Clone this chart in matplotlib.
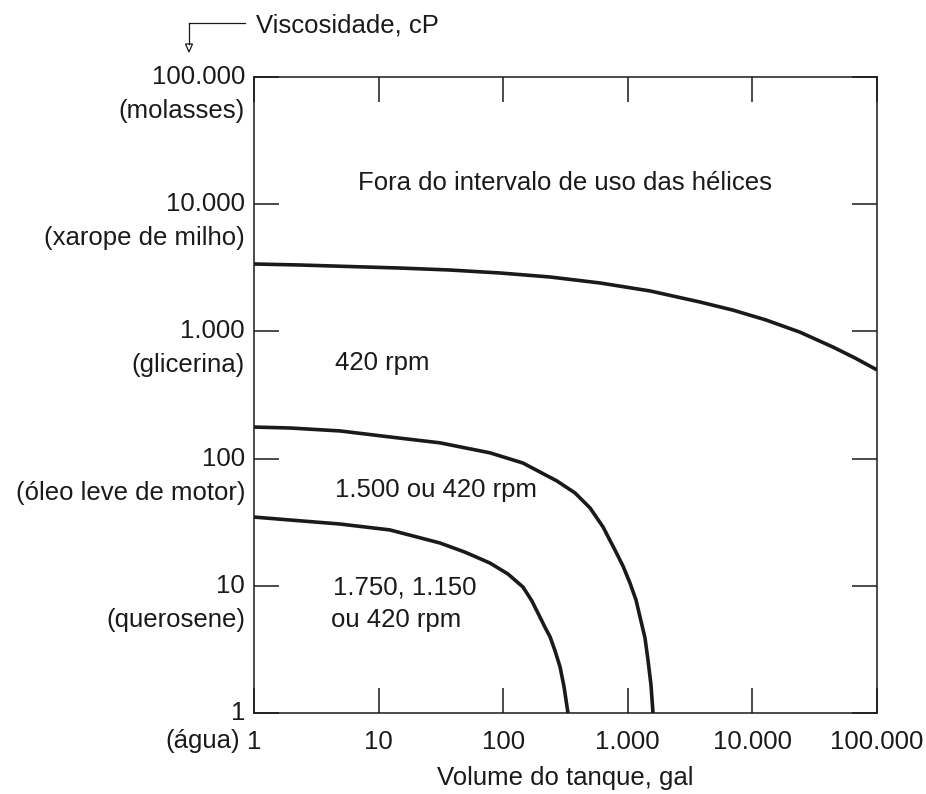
import matplotlib
matplotlib.use("Agg")
import matplotlib.pyplot as plt
from matplotlib.lines import Line2D

plt.rcParams['font.family'] = ['Liberation Sans', 'DejaVu Sans']
FS = 18.5
INK = '#1a1a1a'

# ---- data ----
x_ticks = [1, 10, 100, 1000, 10000, 100000]
x_tick_labels = ['1', '10', '100', '1.000', '10.000', '100.000']
y_ticks = [1, 10, 100, 1000, 10000, 100000]
y_tick_numbers = ['1', '10', '100', '1.000', '10.000', '100.000']
y_tick_fluids = ['(água)', '(querosene)', '(óleo leve de motor)', '(glicerina)',
                 '(xarope de milho)', '(molasses)']

top_x = [1, 2.34, 5.89, 14.9, 37.4, 94.3, 238, 598, 1507, 3796, 6985, 12850,
         24100, 44350, 66600, 100000]
top_y = [3388, 3327, 3236, 3148, 3038, 2879, 2677, 2403, 2080, 1702, 1470, 1230,
         986, 753, 618, 498]

mid_x = [1, 1.95, 4.90, 12.3, 31.1, 78.3, 144, 270, 377, 498, 633, 789, 915,
         1042, 1164, 1253, 1374, 1452, 1535, 1593]
mid_y = [177, 174, 165, 148, 133, 111, 92.3, 66.7, 53.7, 40.9, 29.0, 19.1, 14.3,
         10.5, 7.73, 5.69, 3.89, 2.61, 1.66, 1.0]

low_x = [1, 1.95, 4.90, 12.3, 31.1, 49.3, 78.3, 109, 144, 170, 197, 216, 238,
         261, 286, 308, 331]
low_y = [34.7, 32.9, 30.6, 27.5, 21.7, 18.4, 15.1, 12.4, 9.79, 7.60, 5.69, 4.74,
         3.96, 3.07, 2.30, 1.60, 1.0]

region_labels = ['Fora do intervalo de uso das hélices', '420 rpm',
                 '1.500 ou 420 rpm', '1.750, 1.150', 'ou 420 rpm']

W, H = 926, 794
fig = plt.figure(figsize=(W / 100, H / 100), dpi=100)
fig.patch.set_facecolor('white')

L, R, T, B = 254, 877, 77, 713
ax = fig.add_axes([L / W, 1 - B / H, (R - L) / W, (B - T) / H])
ax.set_xscale('log')
ax.set_yscale('log')
ax.set_xlim(1, 100000)
ax.set_ylim(1, 100000)

for xs, ys in [(top_x, top_y), (mid_x, mid_y), (low_x, low_y)]:
    ax.plot(xs, ys, color=INK, lw=2.6, solid_capstyle='butt', solid_joinstyle='round')

for s in ax.spines.values():
    s.set_color(INK)
    s.set_linewidth(1.1)

ax.xaxis.set_minor_locator(matplotlib.ticker.NullLocator())
ax.yaxis.set_minor_locator(matplotlib.ticker.NullLocator())
ax.set_xticks(x_ticks)
ax.set_xticklabels(x_tick_labels, fontsize=FS, color=INK)
ax.set_yticks(y_ticks)
ax.set_yticklabels([])
ax.tick_params(axis='both', which='major', direction='in', length=18, width=1.1,
               color=INK, top=True, right=True)
ax.tick_params(axis='x', pad=12)
ax.tick_params(axis='y', pad=0)

# y tick labels: number at tick, fluid name below
ytr = ax.get_yaxis_transform()
for i, (v, num, fl) in enumerate(zip(y_ticks, y_tick_numbers, y_tick_fluids)):
    ax.annotate(num, xy=(0, v), xycoords=ytr, xytext=(-9, 0), textcoords='offset pixels',
                ha='right', va='center', fontsize=FS, color=INK, annotation_clip=False)
    dy = -28 if i == 0 else -34
    dx = -14 if i == 0 else -9
    ax.annotate(fl, xy=(0, v), xycoords=ytr, xytext=(dx, dy), textcoords='offset pixels',
                ha='right', va='center', fontsize=FS, color=INK, annotation_clip=False)

# region labels
ax.text((358 - L) / (R - L), (B - 183) / (B - T), region_labels[0], transform=ax.transAxes,
        ha='left', va='center', fontsize=FS, color=INK)
ax.text((335 - L) / (R - L), (B - 363) / (B - T), region_labels[1], transform=ax.transAxes,
        ha='left', va='center', fontsize=FS, color=INK)
ax.text((335 - L) / (R - L), (B - 490) / (B - T), region_labels[2], transform=ax.transAxes,
        ha='left', va='center', fontsize=FS, color=INK)
ax.text((333 - L) / (R - L), (B - 588) / (B - T), region_labels[3], transform=ax.transAxes,
        ha='left', va='center', fontsize=FS, color=INK)
ax.text((331 - L) / (R - L), (B - 620) / (B - T), region_labels[4], transform=ax.transAxes,
        ha='left', va='center', fontsize=FS, color=INK)

# axis titles
fig.text(565 / W, 1 - 778 / H, 'Volume do tanque, gal', ha='center', va='center',
         fontsize=FS, color=INK)
fig.text(256 / W, 1 - 25 / H, 'Viscosidade, cP', ha='left', va='center',
         fontsize=FS, color=INK)

# bracket arrow next to the y-axis title
fig.add_artist(Line2D([189 / W, 245 / W], [1 - 23 / H, 1 - 23 / H],
                      transform=fig.transFigure, color=INK, lw=0.9))
fig.add_artist(Line2D([189 / W, 189 / W], [1 - 23 / H, 1 - 44 / H],
                      transform=fig.transFigure, color=INK, lw=0.9))
fig.patches.append(matplotlib.patches.Polygon(
    [(185.5 / W, 1 - 44 / H), (192.5 / W, 1 - 44 / H), (189 / W, 1 - 52 / H)],
    closed=True, transform=fig.transFigure, facecolor='white', edgecolor=INK, lw=0.9))

fig.savefig('out.png', dpi=100, facecolor='white')
